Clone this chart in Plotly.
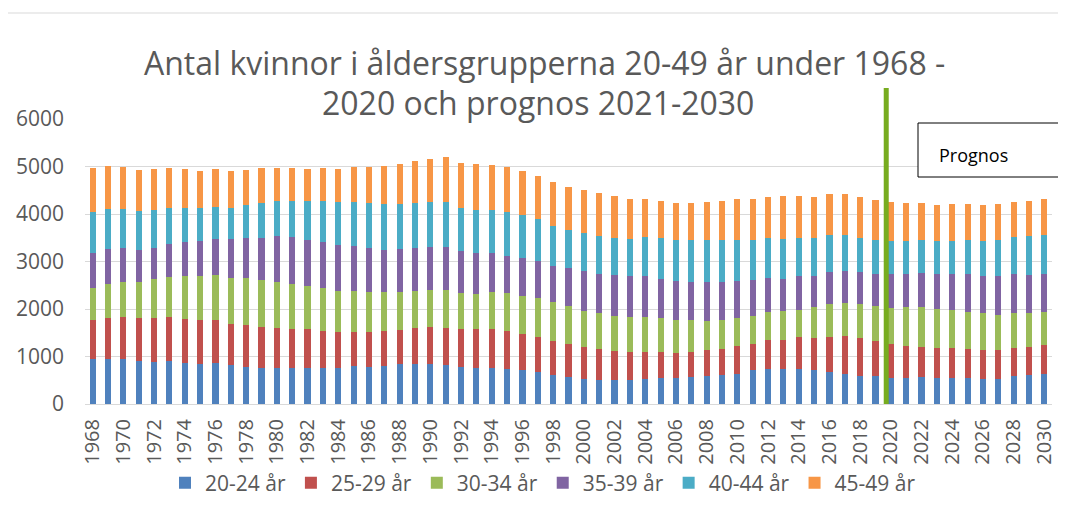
import plotly.graph_objects as go

years = list(range(1968, 2031))

age_20_24 = [947, 954, 940, 898, 884, 898, 856, 842, 856, 814, 786, 751, 751, 758, 765, 765,
             758, 793, 779, 793, 835, 849, 842, 814, 772, 765, 758, 744, 716, 674, 604, 561,
             519, 505, 505, 512, 526, 547, 547, 561, 589, 611, 639, 716, 730, 737, 730, 723,
             681, 632, 589, 589, 547, 547, 561, 547, 547, 547, 519, 519, 589, 604, 632]
age_25_29 = [821, 857, 892, 906, 920, 927, 926, 919, 905, 863, 870, 877, 856, 828, 807, 779,
             751, 716, 730, 737, 716, 744, 786, 793, 800, 807, 814, 786, 758, 730, 715, 702,
             674, 653, 618, 576, 562, 541, 520, 527, 541, 540, 575, 554, 610, 617, 674, 659,
             723, 807, 793, 730, 709, 681, 632, 625, 625, 604, 618, 618, 590, 596, 603]
age_30_34 = [667, 715, 736, 764, 821, 856, 906, 927, 955, 976, 990, 983, 961, 940, 905, 891,
             877, 877, 849, 828, 814, 793, 779, 800, 765, 751, 786, 814, 807, 828, 821, 807,
             772, 751, 737, 751, 744, 730, 708, 680, 610, 617, 604, 590, 597, 604, 582, 653,
             701, 694, 723, 744, 765, 807, 849, 835, 807, 793, 772, 730, 730, 716, 702]
age_35_39 = [744, 737, 716, 674, 659, 687, 723, 737, 758, 814, 842, 884, 962, 983, 976, 983,
             961, 933, 919, 884, 891, 891, 891, 891, 877, 849, 814, 779, 786, 772, 772, 786,
             828, 821, 849, 849, 856, 807, 807, 807, 821, 793, 778, 751, 709, 667, 702, 667,
             667, 660, 681, 674, 709, 702, 709, 723, 751, 786, 793, 835, 828, 793, 793]
age_40_44 = [863, 835, 821, 814, 793, 751, 722, 694, 666, 652, 694, 737, 737, 765, 821, 849,
             899, 927, 955, 962, 962, 948, 948, 948, 912, 919, 905, 912, 905, 884, 842, 807,
             800, 807, 779, 779, 821, 863, 864, 871, 885, 885, 850, 835, 842, 856, 814, 793,
             793, 765, 709, 723, 709, 702, 709, 709, 709, 730, 737, 758, 772, 828, 821]
age_45_49 = [926, 920, 891, 877, 863, 849, 807, 793, 800, 786, 737, 729, 694, 687, 673, 694,
             708, 736, 750, 807, 842, 884, 905, 947, 955, 969, 962, 961, 940, 919, 920, 905,
             912, 898, 884, 856, 807, 786, 786, 793, 814, 835, 870, 863, 870, 891, 884, 870,
             856, 863, 870, 835, 814, 800, 779, 757, 772, 751, 757, 751, 737, 744, 772]

series_names = ["20-24 år", "25-29 år", "30-34 år", "35-39 år", "40-44 år", "45-49 år"]
series_values = [age_20_24, age_25_29, age_30_34, age_35_39, age_40_44, age_45_49]
colors = ["#4F81BD", "#C0504D", "#9BBB59", "#8064A2", "#4BACC6", "#F79646"]

title_line1 = "Antal kvinnor i åldersgrupperna 20-49 år under 1968 -"
title_line2 = "2020 och prognos 2021-2030"
forecast_label = "Prognos"
forecast_start = 2019.7

x_ticks = list(range(1968, 2031, 2))

# page offset (body margin) of 8px
OFF = 8
W, H = 1066 - 2 * OFF, 514 - 2 * OFF
ML, MT = 85 - OFF, 119 - OFF
PLOT_RIGHT, PLOT_BOTTOM = 1052 - OFF, 404 - OFF
MR, MB = W - PLOT_RIGHT, H - PLOT_BOTTOM
PW, PH = W - ML - MR, H - MT - MB

def px_x(p):
    # p: reference-image pixel x
    return (p - OFF - ML) / PW

def px_y(p):
    # p: reference-image pixel y
    return (PLOT_BOTTOM - (p - OFF)) / PH

FONT = "Open Sans"
GREY = "#595959"

fig = go.Figure()
for name, vals, col in zip(series_names, series_values, colors):
    fig.add_trace(go.Bar(x=years, y=vals, name=name, marker=dict(color=col, line=dict(width=0))))

fig.update_layout(
    width=W, height=H,
    margin=dict(l=ML, r=MR, t=MT, b=MB, autoexpand=False),
    barmode="stack", bargap=0.6,
    paper_bgcolor="white", plot_bgcolor="white",
    font=dict(family=FONT, color=GREY),
    showlegend=True,
    legend=dict(orientation="h", xref="container", yref="container",
                x=(543 - OFF) / W, xanchor="center", y=(H - (483 - OFF)) / H, yanchor="middle",
                font=dict(size=21, color=GREY), itemwidth=30, traceorder="normal",
                bgcolor="rgba(0,0,0,0)"),
)
fig.update_xaxes(range=[1967.5, 2030.5], tickmode="array", tickvals=x_ticks,
                 ticktext=[str(v) for v in x_ticks], tickangle=-90,
                 tickfont=dict(size=20, color=GREY), showgrid=False, zeroline=False,
                 showline=False, ticks="", ticklabelstandoff=10)
fig.update_yaxes(range=[0, 6000], dtick=1000, showgrid=True, gridcolor="#D9D9D9",
                 gridwidth=1, zeroline=True, zerolinecolor="#D9D9D9", zerolinewidth=1,
                 tickfont=dict(size=21, color=GREY), ticks="", ticklabelstandoff=20)

# chart frame (left and top edges only; the rest lies outside the picture)
frame_line = dict(color="#D9D9D9", width=1)
fig.add_shape(type="line", xref="paper", yref="paper", x0=px_x(7), x1=px_x(7),
              y0=px_y(520), y1=px_y(13), line=frame_line, layer="below")
fig.add_shape(type="line", xref="paper", yref="paper", x0=px_x(7), x1=px_x(1070),
              y0=px_y(13), y1=px_y(13), line=frame_line, layer="below")

# forecast divider
fig.add_shape(type="line", xref="x", yref="paper", x0=forecast_start, x1=forecast_start,
              y0=0, y1=px_y(88), line=dict(color="#77AC1F", width=5), layer="above")

# forecast box (open to the right edge)
fig.add_shape(type="rect", xref="paper", yref="paper",
              x0=px_x(918), x1=px_x(1070), y0=px_y(177), y1=px_y(123),
              line=dict(width=0), fillcolor="white", layer="above")
box_line = dict(color="black", width=1)
for (xa, ya, xb, yb) in [(918, 123, 1070, 123), (918, 177, 1070, 177), (918, 123, 918, 177)]:
    fig.add_shape(type="line", xref="paper", yref="paper", x0=px_x(xa), x1=px_x(xb),
                  y0=px_y(ya), y1=px_y(yb), line=box_line, layer="above")
fig.add_annotation(text=forecast_label, xref="paper", yref="paper", x=px_x(937), y=px_y(155),
                   xanchor="left", yanchor="middle", showarrow=False,
                   font=dict(size=18, color="black", family=FONT))

# title
fig.add_annotation(text=title_line1, xref="paper", yref="paper", x=px_x(544), y=px_y(62),
                   xanchor="center", yanchor="middle", showarrow=False,
                   font=dict(size=32, color=GREY, family=FONT))
fig.add_annotation(text=title_line2, xref="paper", yref="paper", x=px_x(538), y=px_y(102),
                   xanchor="center", yanchor="middle", showarrow=False,
                   font=dict(size=32, color=GREY, family=FONT))

fig.write_html("out.html")
